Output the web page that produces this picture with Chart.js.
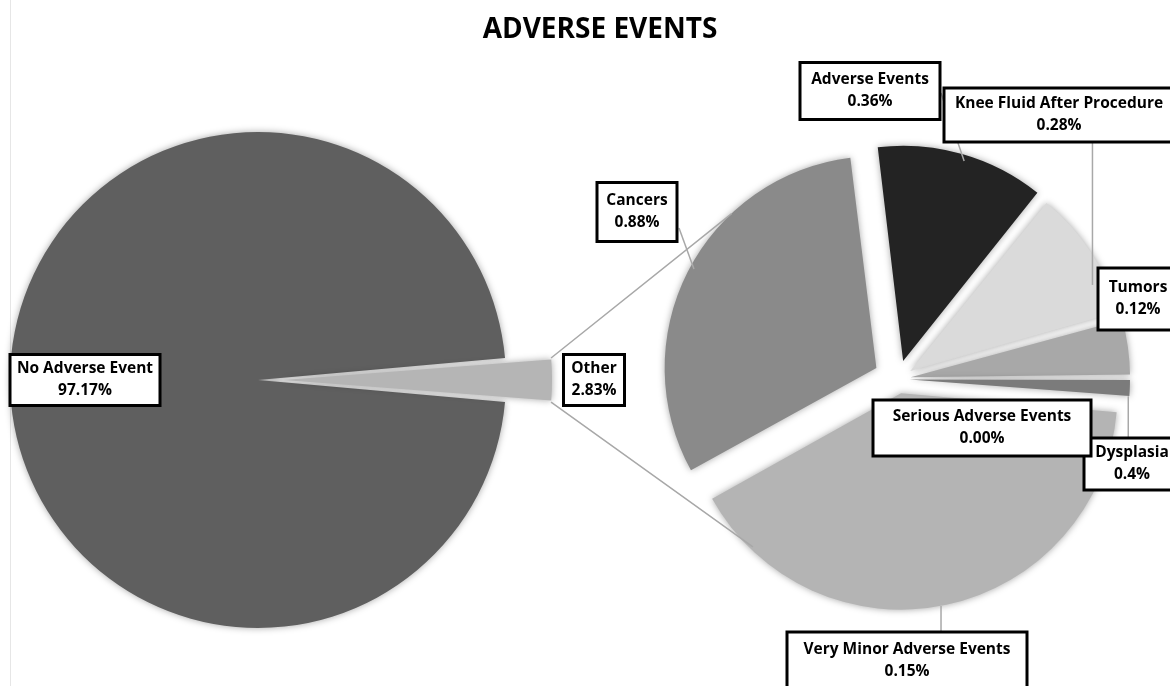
<!DOCTYPE html>
<html>
<head>
<meta charset="utf-8">
<script src="https://cdn.jsdelivr.net/npm/chart.js@4.4.1/dist/chart.umd.min.js"></script>
<style>
  html, body { margin: 0; padding: 0; background: #fff; }
  #wrap { position: relative; width: 1170px; height: 686px; overflow: hidden; }
  #wrap canvas { position: absolute; left: 0; top: 0; }
  #edge { position: absolute; left: 10px; top: 0; width: 1px; height: 686px; background: #e6e6e6; }
</style>
</head>
<body>
<div id="wrap">
  <div id="edge"></div>
  <canvas id="chart-main" width="1170" height="686"></canvas>
  <canvas id="chart-other" width="1170" height="686"></canvas>
</div>
<script>
const titleText = 'ADVERSE EVENTS';

// main pie
const mainLabels = ['No Adverse Event', 'Other'];
const mainValues = [97.17, 2.83];
const mainPctText = ['97.17%', '2.83%'];

// breakdown of "Other" (slice sizes as drawn, labels as printed)
const otherLabels = ['Adverse Events', 'Knee Fluid After Procedure', 'Tumors', 'Dysplasia',
                     'Serious Adverse Events', 'Very Minor Adverse Events', 'Cancers'];
const otherValues = [0.36, 0.28, 0.12, 0.04, 0.00, 1.15, 0.88];
const otherPctText = ['0.36%', '0.28%', '0.12%', '0.4%', '0.00%', '0.15%', '0.88%'];

// label boxes (layout only)
const mainBoxes = [
    { cx: 85, cy: 380, w: 150, h: 51 },
    { cx: 594, cy: 380, w: 61, h: 51 }
];
const otherBoxes = [
    { cx: 870, cy: 91, w: 140, h: 57, lead: { from: [941, 93], deg: -73, r: 0.97 } },
    { cx: 1059, cy: 115, w: 230, h: 54, lead: { vertical: 'bottom', deg: -25, r: 0.93 } },
    { cx: 1138, cy: 299, w: 80, h: 62 },
    { cx: 1132, cy: 464, w: 96, h: 52, lead: { vertical: 'top', deg: 4.5, r: 0.995 } },
    { cx: 982, cy: 428, w: 218, h: 56 },
    { cx: 907, cy: 661, w: 240, h: 58, lead: { vertical: 'top', deg: 79.4, r: 1.0 } },
    { cx: 637, cy: 212, w: 80, h: 59, lead: { from: [679, 228], deg: 208.5, r: 0.98 } }
];

const softShadow = {
    id: 'softShadow',
    beforeDatasetsDraw(chart) {
        const ctx = chart.ctx;
        ctx.save();
        ctx.shadowColor = 'rgba(0,0,0,0.35)';
        ctx.shadowBlur = 7;
    },
    afterDatasetsDraw(chart) { chart.ctx.restore(); }
};

// centre of an exploded slice, same maths as Chart.js ArcElement.draw
function sliceCentre(el) {
    const p = el.getProps(['x', 'y', 'startAngle', 'endAngle', 'outerRadius'], true);
    const c = p.endAngle - p.startAngle;
    const mid = (p.startAngle + p.endAngle) / 2;
    const off = (el.options.offset || 0) / 4;
    const d = off + off * (1 - Math.sin(Math.min(Math.PI, c)));
    return { x: p.x + Math.cos(mid) * d, y: p.y + Math.sin(mid) * d, r: p.outerRadius, s: p.startAngle, e: p.endAngle };
}
function arcPoint(el, rad, frac) {
    const s = sliceCentre(el);
    return [s.x + Math.cos(rad) * s.r * frac, s.y + Math.sin(rad) * s.r * frac];
}

function drawBox(ctx, b, l1, l2) {
    const x = b.cx - b.w / 2, y = b.cy - b.h / 2;
    ctx.fillStyle = '#fff';
    ctx.fillRect(x, y, b.w, b.h);
    ctx.lineWidth = 3;
    ctx.strokeStyle = '#000';
    ctx.strokeRect(x, y, b.w, b.h);
    ctx.fillStyle = '#000';
    ctx.font = "bold 15.5px 'Open Sans'";
    ctx.textAlign = 'center';
    ctx.textBaseline = 'middle';
    ctx.fillText(l1, b.cx, b.cy - 11);
    ctx.fillText(l2, b.cx, b.cy + 11);
}

let mainChart;

const labelsPlugin = {
    id: 'pieOfPieLabels',
    afterDraw(chart) {
        const ctx = chart.ctx;
        const mainMeta = mainChart.getDatasetMeta(0);
        const subMeta = chart.getDatasetMeta(0);
        const otherEl = mainMeta.data[1];
        const oc = sliceCentre(otherEl);
        ctx.save();

        // connector lines from "Other" to the second pie
        ctx.strokeStyle = '#a8a8a8';
        ctx.lineWidth = 1.5;
        const topStart = arcPoint(otherEl, oc.s, 1);
        const botStart = arcPoint(otherEl, oc.e, 1);
        const topEnd = arcPoint(subMeta.data[6], 227 * Math.PI / 180, 1);
        const botEnd = arcPoint(subMeta.data[5], 135.4 * Math.PI / 180, 1);
        ctx.beginPath();
        ctx.moveTo(topStart[0], topStart[1]); ctx.lineTo(topEnd[0], topEnd[1]);
        ctx.moveTo(botStart[0], botStart[1]); ctx.lineTo(botEnd[0], botEnd[1]);
        ctx.stroke();

        // leader lines
        otherBoxes.forEach((b, i) => {
            if (!b.lead) return;
            const end = arcPoint(subMeta.data[i], b.lead.deg * Math.PI / 180, b.lead.r);
            let start;
            if (b.lead.vertical === 'bottom') start = [end[0], b.cy + b.h / 2];
            else if (b.lead.vertical === 'top') start = [end[0], b.cy - b.h / 2];
            else start = b.lead.from;
            ctx.beginPath();
            ctx.moveTo(start[0], start[1]);
            ctx.lineTo(end[0], end[1]);
            ctx.stroke();
        });

        mainBoxes.forEach((b, i) => drawBox(ctx, b, mainLabels[i], mainPctText[i]));
        otherBoxes.forEach((b, i) => drawBox(ctx, b, otherLabels[i], otherPctText[i]));

        // title
        ctx.fillStyle = '#000';
        ctx.font = "bold 28px 'Open Sans'";
        ctx.textAlign = 'center';
        ctx.textBaseline = 'middle';
        ctx.fillText(titleText, 600, 30);
        ctx.restore();
    }
};

mainChart = new Chart(document.getElementById('chart-main'), {
    type: 'pie',
    data: {
        labels: mainLabels,
        datasets: [{
            data: mainValues,
            backgroundColor: ['#5f5f5f', '#b5b5b5'],
            borderWidth: 0,
            offset: [0, 101]
        }]
    },
    options: {
        responsive: false,
        animation: false,
        events: [],
        rotation: 95.1,
        radius: 248,
        layout: { padding: { left: 0, right: 654, top: 132, bottom: 58 } },
        plugins: { legend: { display: false }, tooltip: { enabled: false } }
    },
    plugins: [softShadow]
});

new Chart(document.getElementById('chart-other'), {
    type: 'pie',
    data: {
        labels: otherLabels,
        datasets: [{
            data: otherValues,
            backgroundColor: ['#232323', '#dadada', '#a8a8a8', '#7b7b7b', '#999999', '#b4b4b4', '#8a8a8a'],
            borderWidth: 0,
            offset: [75, 59, 51, 46, 0, 58, 97]
        }]
    },
    options: {
        responsive: false,
        animation: false,
        events: [],
        rotation: -7,
        radius: 210,
        layout: { padding: { left: 638, right: 12, top: 119, bottom: 47 } },
        plugins: { legend: { display: false }, tooltip: { enabled: false } }
    },
    plugins: [softShadow, labelsPlugin]
});
</script>
</body>
</html>
